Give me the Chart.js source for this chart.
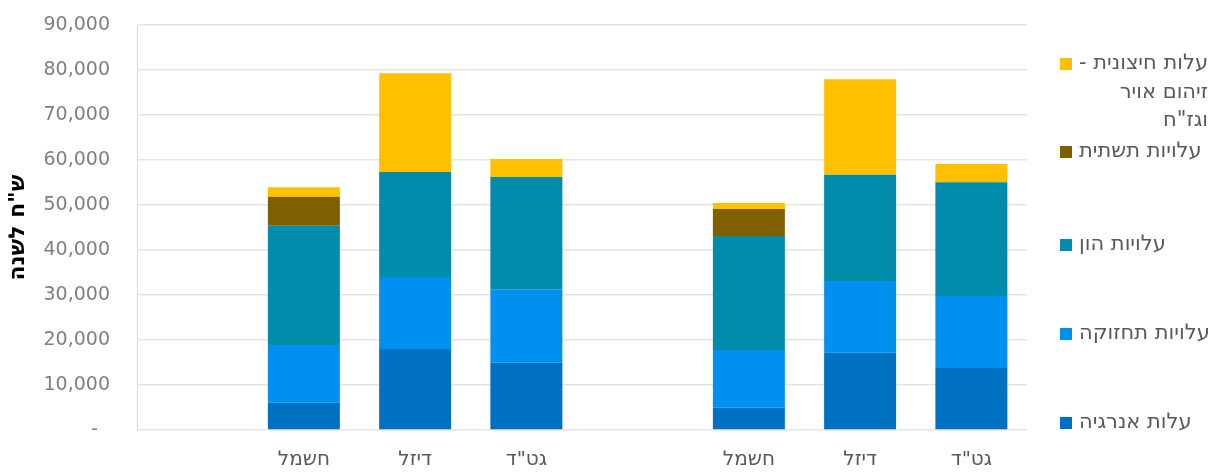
<!DOCTYPE html>
<html>
<head>
<meta charset="utf-8">
<script src="https://cdn.jsdelivr.net/npm/chart.js@4.4.1/dist/chart.umd.min.js"></script>
<style>
  html, body { margin: 0; padding: 0; background: #fff; }
  #wrap { width: 1215px; height: 472px; }
</style>
</head>
<body>
<div id="wrap"><canvas id="chart"></canvas></div>
<script>
// categories (empty slots separate the two groups)
const categories = ['', 'חשמל', 'דיזל', 'גט"ד', '', 'חשמל', 'דיזל', 'גט"ד'];

// stacked segments, bottom to top, ש"ח לשנה
const energyCost   = [null, 6070, 18000, 14960, null, 4960, 17190, 13780];
const maintCost    = [null, 12830, 16000, 16220, null, 12820, 15920, 16000];
const capitalCost  = [null, 26500, 23330, 25040, null, 25330, 23630, 25260];
const infraCost    = [null, 6450, 0, 0, null, 6000, 0, 0];
const externalCost = [null, 2080, 21930, 4000, null, 1330, 21190, 4070];

const seriesNames = ['עלות אנרגיה', 'עלויות תחזוקה', 'עלויות הון', 'עלויות תשתית', 'עלות חיצונית - זיהום אויר וגז"ח'];
const seriesColors = ['#0070c0', '#0090f0', '#008caa', '#7f6000', '#ffc000'];

const yTitle = 'ש"ח לשנה';
const yMax = 90000;
const yStep = 10000;

const FONT = "'DejaVu Sans', 'Liberation Sans', sans-serif";
const RLM = '\u200F';

// Excel-like legend on the right, drawn from the dataset list
const sideLegend = {
  id: 'sideLegend',
  afterDraw(chart, args, opts) {
    const ctx = chart.ctx;
    const ds = chart.data.datasets;
    ctx.save();
    ctx.font = opts.fontSize + 'px ' + FONT;
    ctx.textBaseline = 'middle';
    ctx.textAlign = 'right';
    // top entry is the last dataset
    for (let k = 0; k < ds.length; k++) {
      const d = ds[ds.length - 1 - k];
      const words = d.label.split(' ');
      const lines = [];
      let cur = '';
      words.forEach(w => {
        const test = cur ? cur + ' ' + w : w;
        if (cur && ctx.measureText(test).width > opts.wrapWidth) { lines.push(cur); cur = w; }
        else cur = test;
      });
      if (cur) lines.push(cur);
      const boxW = Math.max(...lines.map(l => ctx.measureText(l).width));
      const y0 = opts.rows[k];
      ctx.fillStyle = d.backgroundColor;
      ctx.fillRect(opts.markerX, y0 - 6, 12, 12);
      ctx.fillStyle = '#595959';
      lines.forEach((l, i) => {
        ctx.fillText(RLM + l + RLM, opts.textX + boxW, y0 + i * opts.lineH);
      });
    }
    ctx.restore();
  }
};

new Chart(document.getElementById('chart'), {
  type: 'bar',
  data: {
    labels: categories,
    datasets: [energyCost, maintCost, capitalCost, infraCost, externalCost].map((vals, i) => ({
      label: seriesNames[i],
      data: vals,
      backgroundColor: seriesColors[i],
      borderWidth: 0,
      barPercentage: 0.647,
      categoryPercentage: 1.0
    }))
  },
  options: {
    responsive: true,
    maintainAspectRatio: false,
    animation: false,
    layout: { autoPadding: false, padding: { top: 25, right: 188, bottom: 0, left: 0 } },
    plugins: {
      legend: { display: false },
      tooltip: { enabled: false },
      sideLegend: {
        fontSize: 21,
        wrapWidth: 134,
        markerX: 1060,
        textX: 1079,
        lineH: 28.5,
        rows: [64, 152, 245, 334, 423]
      }
    },
    scales: {
      x: {
        stacked: true,
        grid: { display: false, drawTicks: false },
        border: { display: false },
        ticks: { color: '#595959', font: { family: FONT, size: 20 }, padding: 18, maxRotation: 0, autoSkip: false },
        afterFit(scale) { scale.height = 42; }
      },
      y: {
        stacked: true,
        min: 0,
        max: yMax,
        grid: { color: '#e4e4e4', lineWidth: 1.5, drawTicks: true, tickLength: 27, tickColor: 'rgba(0,0,0,0)' },
        border: { display: true, color: '#d9d9d9', width: 1 },
        ticks: {
          stepSize: yStep,
          color: '#7f7f7f',
          font: { family: FONT, size: 19 },
          padding: 0,
          callback: v => v === 0 ? '-  ' : v.toLocaleString('en-US')
        },
        title: {
          display: true,
          text: yTitle,
          color: '#000',
          font: { family: FONT, size: 22, weight: 'bold' },
          padding: { top: 5, bottom: 0 }
        },
        afterFit(scale) { scale.width = 137; }
      }
    }
  },
  plugins: [sideLegend]
});
</script>
</body>
</html>
